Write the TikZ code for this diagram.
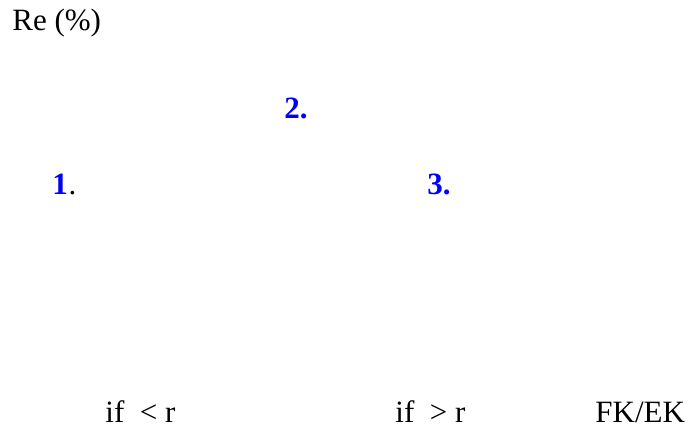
\documentclass[tikz,border=0pt]{standalone}
\usepackage{fontspec}
\setmainfont{Liberation Serif}
\usetikzlibrary{positioning}

\begin{document}
\begin{tikzpicture}[x=0.5pt,y=-0.5pt,
  lbl/.style={font=\fontsize{15.5}{19}\selectfont,inner sep=0pt,anchor=base west},
  num/.style={lbl,font=\fontsize{15.5}{19}\selectfont\bfseries,text=blue}]
\useasboundingbox (0,0) rectangle (689,430);
\node[lbl] (re) at (12,30) {Re (\%)};

\node[num] (n2) at (284,118) {2.};
\node[num] (n1) at (52,194) {1};
\node[lbl,right=0pt of n1.base east,anchor=base west] (d1) {.};
\node[num] (n3) at (427,194) {3.};

\node[lbl] (lo) at (105,422) {if~ < r};
\node[lbl] (hi) at (395,422) {if~ > r};
\node[lbl] (fk) at (595,422) {FK/EK};
\end{tikzpicture}
\end{document}
